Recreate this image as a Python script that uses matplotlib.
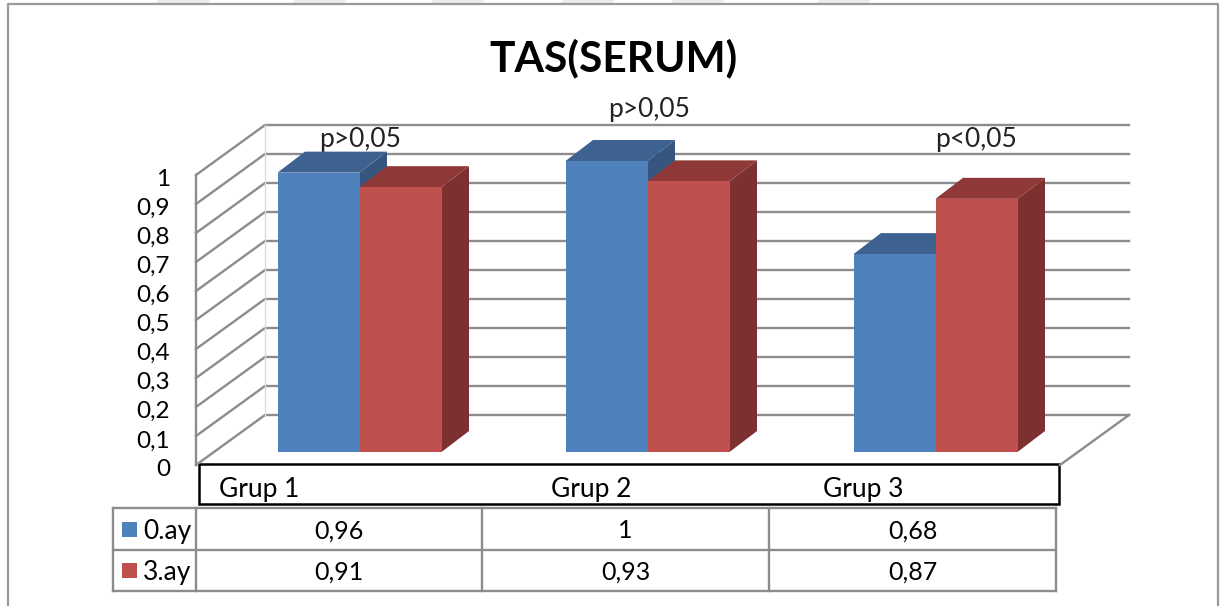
import numpy as np
import matplotlib
matplotlib.use('Agg')
import matplotlib.pyplot as plt
from matplotlib.patches import Polygon, Rectangle

plt.rcParams['font.family'] = ['Lato', 'DejaVu Sans']

# Datos
grupos = ['Grup 1', 'Grup 2', 'Grup 3']
series = ['0.ay', '3.ay']
ay0 = [0.96, 1, 0.68]
ay3 = [0.91, 0.93, 0.87]
ay0_txt = ['0,96', '1', '0,68']
ay3_txt = ['0,91', '0,93', '0,87']
ticks = [0, 0.1, 0.2, 0.3, 0.4, 0.5, 0.6, 0.7, 0.8, 0.9, 1]
tick_txt = ['0', '0,1', '0,2', '0,3', '0,4', '0,5', '0,6', '0,7', '0,8', '0,9', '1']
p_txt = ['p>0,05', 'p>0,05', 'p<0,05']

W, H = 1229, 606
fig = plt.figure(figsize=(W / 100, H / 100), dpi=100, facecolor='white')

# Capa en pixeles para el marco y la tabla
marco = fig.add_axes([0, 0, 1, 1])
marco.set_xlim(0, W)
marco.set_ylim(H, 0)
marco.axis('off')

# Capa de datos: x en grupos, y en valor (0 en y=452 px, 1 en y=161 px)
PX_X = 288.0
PX_Y = 291.0
ax = fig.add_axes([0, 0, 1, 1], facecolor='none')
ax.set_xlim(-359.5 / PX_X, (W - 359.5) / PX_X)
ax.set_ylim((452 - H) / PX_Y, 452 / PX_Y)
ax.axis('off')

GRIS = '#8c8c8c'

# Marca de agua apenas visible arriba
for x in [150, 287, 425, 555, 665, 811]:
    marco.add_patch(Polygon([(x + 8, 0), (x + 60, 0), (x + 50, 10), (x, 10)], fc='#ececec', ec='none', zorder=0))
marco.add_patch(Rectangle((9, 5), 1208, 6, fc='white', ec='none', zorder=0.5))

# Marco exterior
marco.plot([8, 8, 1218, 1218], [H, 4, 4, H], color='#9a9a9a', lw=1.6)

# Paredes y rejilla
esc = 29 / PX_Y  # altura de 0.1 en la pared
x_izq = (196 - 359.5) / PX_X
x_fondo = (265 - 359.5) / PX_X
x_der = (1129 - 359.5) / PX_X
x_der_fr = (1060 - 359.5) / PX_X
y0_fr = (452 - 465) / PX_Y
y0_fo = (452 - 415) / PX_Y
for v in ticks:
    yf = y0_fr + v * 10 * esc
    yb = y0_fo + v * 10 * esc
    ax.plot([x_izq, x_fondo, x_der], [yf, yb, yb], color=GRIS, lw=1.7, zorder=1)
ax.plot([x_izq, x_izq], [y0_fr, y0_fr + 10 * esc], color=GRIS, lw=1.7, zorder=1)
ax.plot([x_fondo, x_fondo], [y0_fo, y0_fo + 10 * esc], color='#dcdcdc', lw=1, zorder=1)
ax.plot([x_der, x_der_fr], [y0_fo, y0_fr], color=GRIS, lw=1.7, zorder=1)

# Barras con efecto 3D
ANCHO = 82.0 / PX_X
DX = 27.5 / PX_X
DY = 21 / PX_Y
COLORES = [('#4f81bd', '#3e6290', '#36557f'), ('#c0504d', '#8e3938', '#7c3130')]


def barra(x, valor, cols, z):
    frente, arriba, lado = cols
    ax.add_patch(Polygon([(x + ANCHO, 0), (x + ANCHO + DX, DY), (x + ANCHO + DX, valor + DY),
                          (x + ANCHO, valor)], fc=lado, ec='none', zorder=z))
    ax.add_patch(Polygon([(x, valor), (x + DX, valor + DY), (x + ANCHO + DX, valor + DY),
                          (x + ANCHO, valor)], fc=arriba, ec='none', zorder=z))
    ax.add_patch(Rectangle((x, 0), ANCHO, valor, fc=frente, ec='none', zorder=z))


for i in range(len(grupos)):
    barra(i - ANCHO, ay0[i], COLORES[0], 3)
    barra(i, ay3[i], COLORES[1], 4)

# Etiquetas del eje
for v, t in zip(ticks, tick_txt):
    marco.text(170, 470 - v * 291, t, ha='right', va='center', fontsize=17.5, color='black')

# Titulo y anotaciones
marco.text(613, 58, 'TAS(SERUM)', ha='center', va='center', fontsize=30.6, fontweight='bold', color='black')
for x, y, t in zip([360, 649, 976], [140, 110, 140], p_txt):
    marco.text(x, y, t, ha='center', va='center', fontsize=19, color='#222222', zorder=6)

# Caja de categorias
marco.add_patch(Rectangle((199, 464), 860, 40, fc='white', ec='black', lw=1.8, zorder=5))
for x, t in zip([259, 591, 863], grupos):
    marco.text(x, 489, t, ha='center', va='center', fontsize=19, color='black', zorder=6)

# Tabla de datos
xs = [113, 196, 482, 769, 1056]
ys = [508, 550, 591]
for y in ys:
    marco.plot([xs[0], xs[-1]], [y, y], color=GRIS, lw=1.7)
for x in xs:
    marco.plot([x, x], [ys[0], ys[-1]], color=GRIS, lw=1.7)
for fila, (nombre, textos, col) in enumerate(zip(series, [ay0_txt, ay3_txt], COLORES)):
    yc = (ys[fila] + ys[fila + 1]) / 2
    marco.add_patch(Rectangle((122, yc - 7.5), 15, 15, fc=col[0], ec='none'))
    marco.text(143, yc + 2, nombre, ha='left', va='center', fontsize=19, color='black')
    for j, t in enumerate(textos):
        marco.text((xs[j + 1] + xs[j + 2]) / 2, yc + 2, t, ha='center', va='center', fontsize=18, color='black')

fig.savefig('out.png', dpi=100)
